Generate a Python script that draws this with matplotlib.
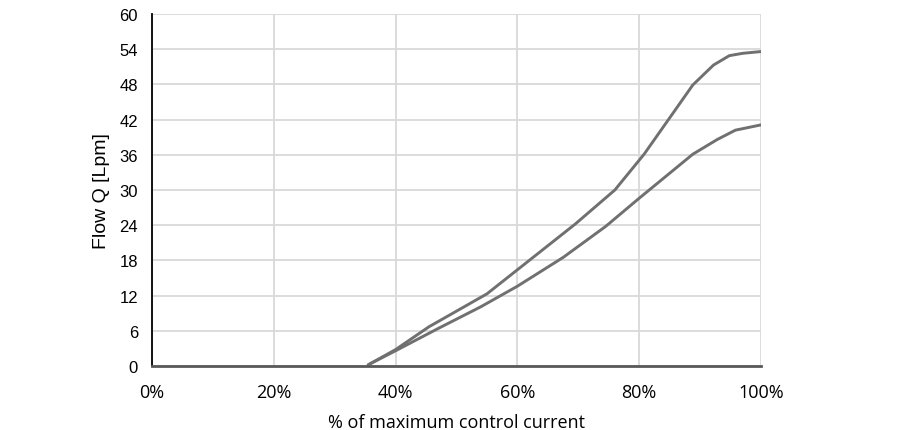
import matplotlib
matplotlib.use("Agg")
import matplotlib.pyplot as plt

# Flow curves (x in % of max control current, y in Lpm)
upper_x = [35.5, 40, 45.5, 55, 69.5, 76, 80.8, 88.8, 92.2, 94.8, 97, 100]
upper_y = [0.2, 2.8, 6.7, 12.3, 24.2, 30.0, 36.1, 47.9, 51.3, 52.9, 53.3, 53.6]

lower_x = [35.5, 40, 47, 54, 60, 67.5, 74.5, 80, 88.8, 92.8, 95.8, 100]
lower_y = [0.2, 2.6, 6.4, 10.1, 13.6, 18.5, 23.8, 28.6, 36.1, 38.6, 40.2, 41.1]

x_ticks = [0, 20, 40, 60, 80, 100]
x_tick_labels = ["0%", "20%", "40%", "60%", "80%", "100%"]
y_ticks = [0, 6, 12, 18, 24, 30, 36, 42, 48, 54, 60]

fig = plt.figure(figsize=(9.2, 4.31), dpi=100)
ax = fig.add_axes([0.1652, 0.1485, 0.662, 0.8167])

line_color = "#707070"
ax.plot(upper_x, upper_y, color=line_color, lw=2.1, solid_capstyle="round")
ax.plot(lower_x, lower_y, color=line_color, lw=2.1, solid_capstyle="round")

ax.set_xlim(0, 100)
ax.set_ylim(0, 60)
ax.set_xticks(x_ticks)
ax.set_xticklabels(x_tick_labels, family="Open Sans", fontsize=13)
ax.set_yticks(y_ticks)
ax.set_yticklabels([str(v) for v in y_ticks], family="Liberation Sans", fontsize=12)

ax.grid(True, color="#d9d9d9", lw=1.3)
ax.set_axisbelow(True)
ax.tick_params(length=0)
ax.tick_params(axis="x", pad=12)
ax.tick_params(axis="y", pad=10)

ax.spines["top"].set_visible(False)
ax.spines["right"].set_visible(False)
ax.spines["left"].set_color("black")
ax.spines["left"].set_linewidth(1.3)
ax.spines["bottom"].set_color("#595959")
ax.spines["bottom"].set_linewidth(2)

ax.set_xlabel("% of maximum control current", family="Open Sans", fontsize=13, labelpad=9)
ax.set_ylabel("Flow Q [Lpm]", family="Liberation Sans", fontsize=14, labelpad=7)

fig.savefig("out.png", dpi=100)
